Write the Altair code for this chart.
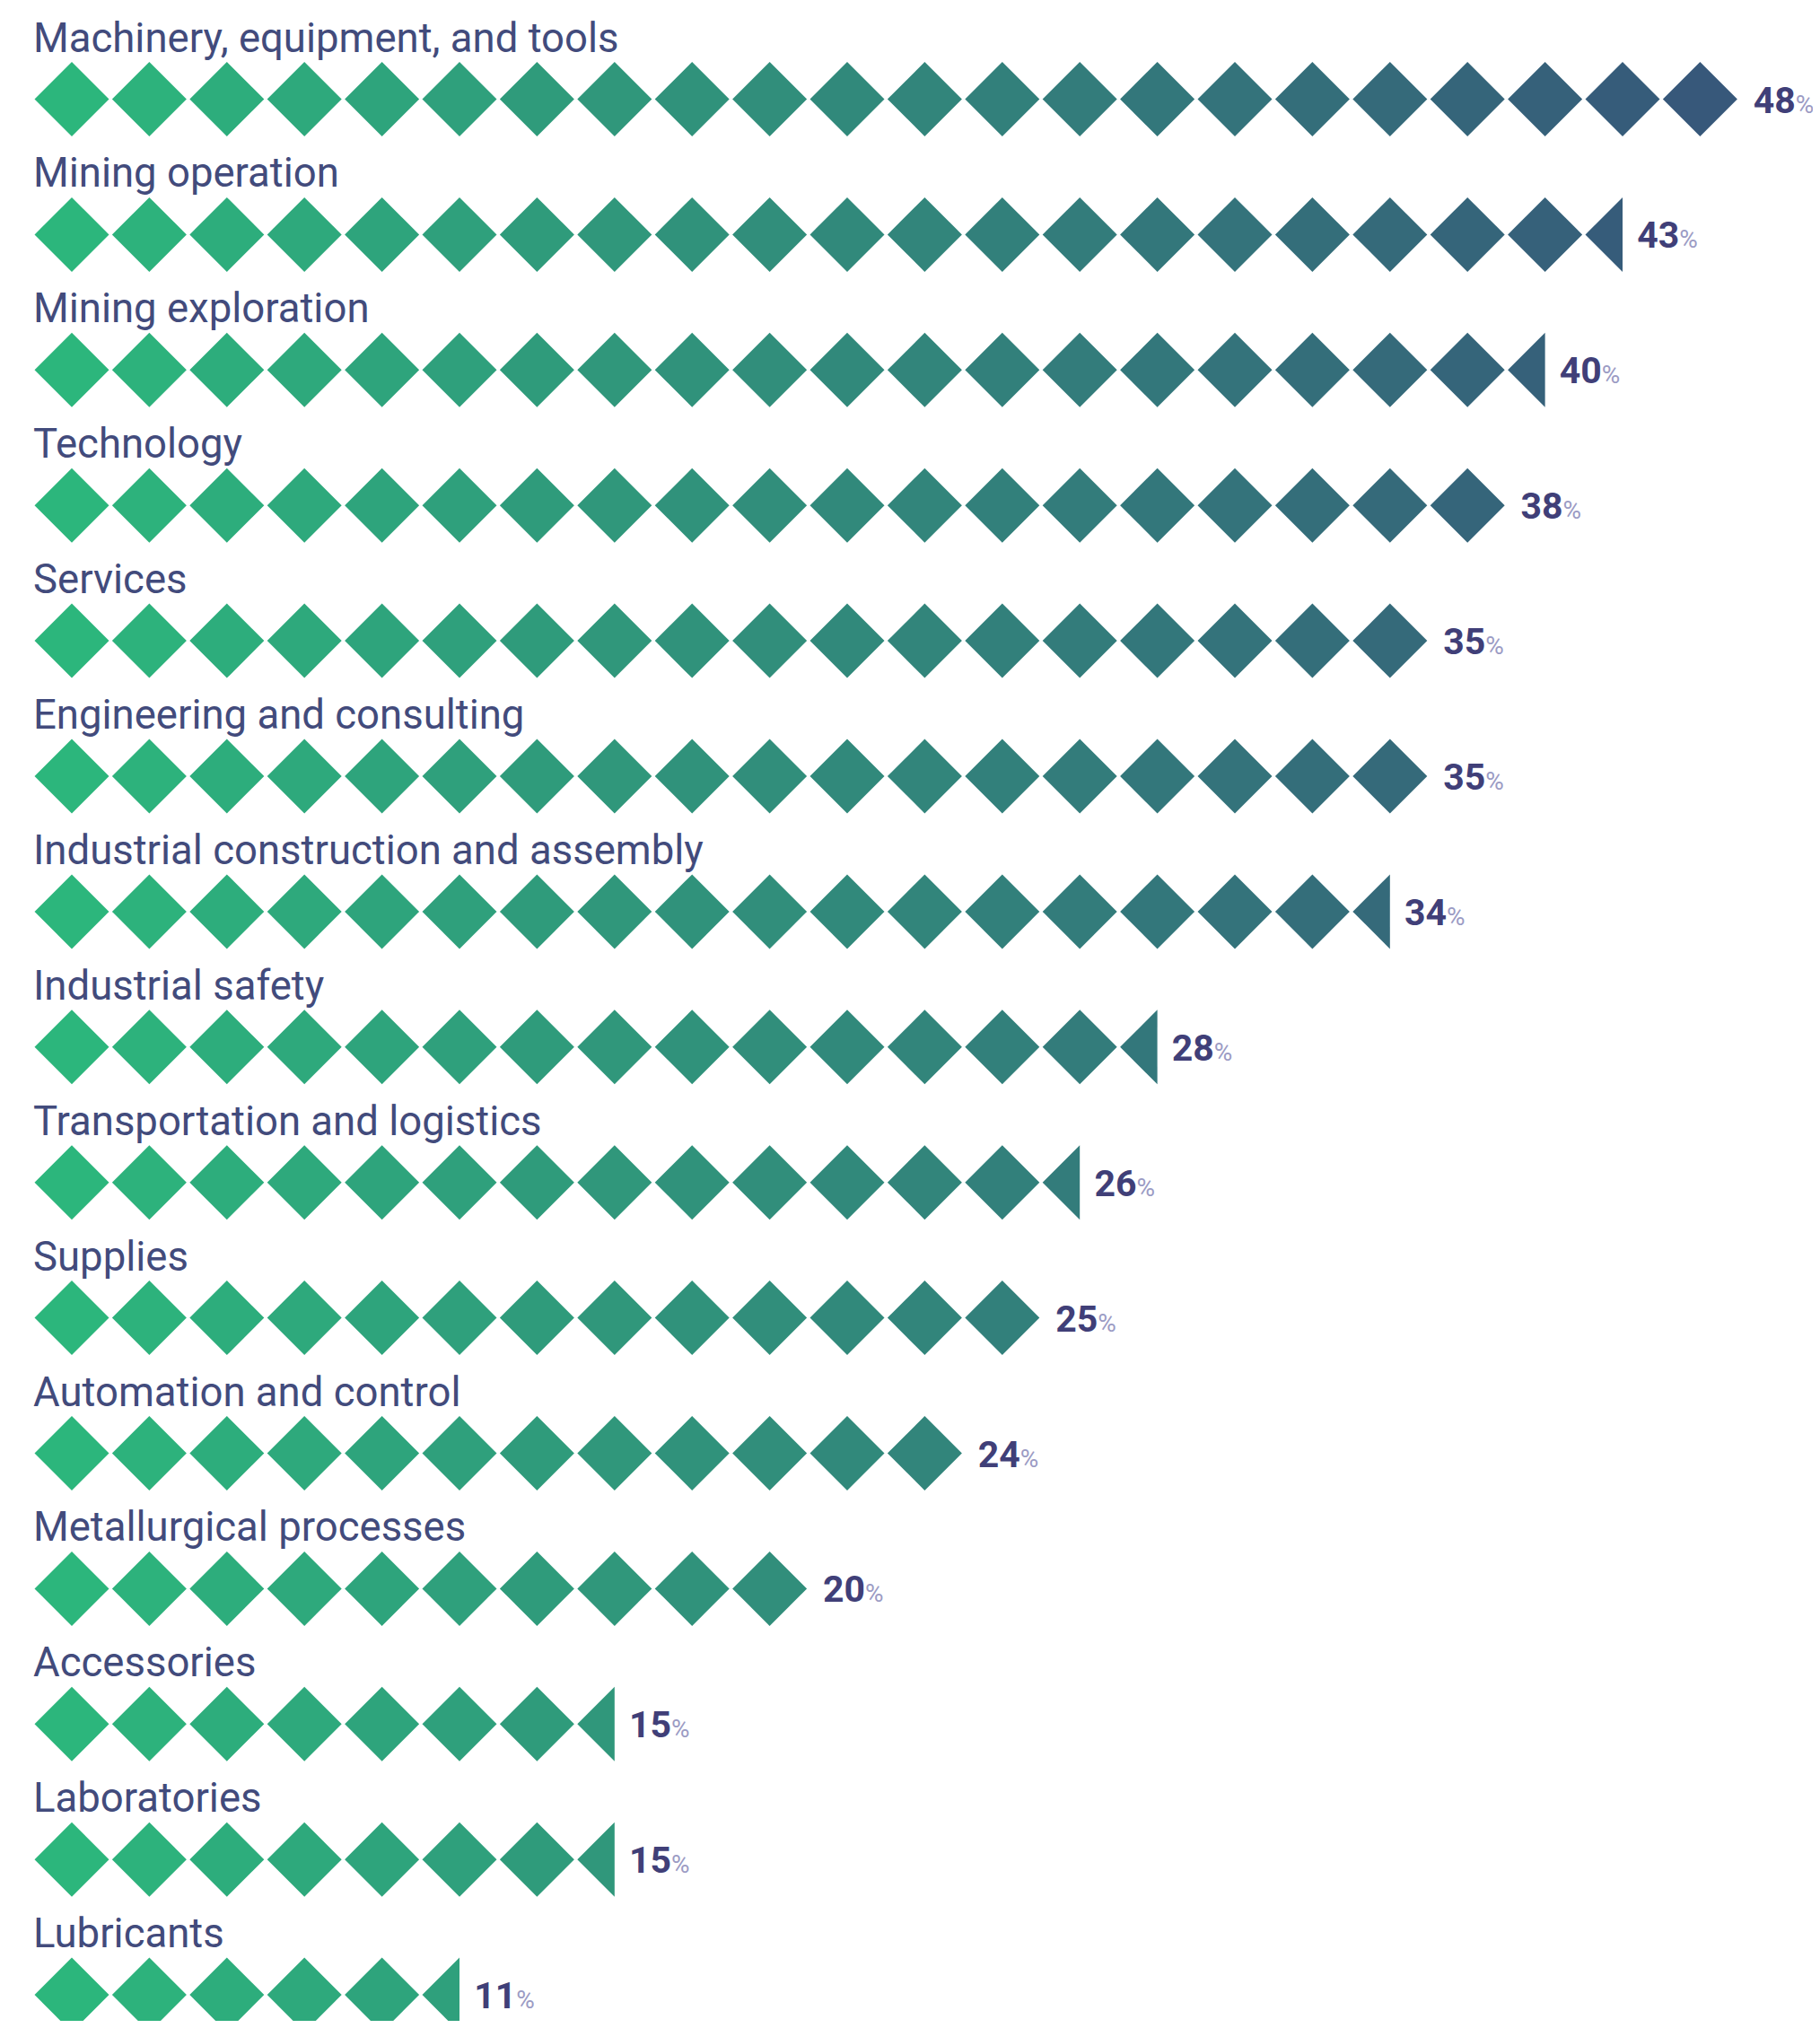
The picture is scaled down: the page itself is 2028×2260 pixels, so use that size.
import altair as alt
import pandas as pd

categories = [
    "Machinery, equipment, and tools",
    "Mining operation",
    "Mining exploration",
    "Technology",
    "Services",
    "Engineering and consulting",
    "Industrial construction and assembly",
    "Industrial safety",
    "Transportation and logistics",
    "Supplies",
    "Automation and control",
    "Metallurgical processes",
    "Accessories",
    "Laboratories",
    "Lubricants",
]
values = [48, 43, 40, 38, 35, 35, 34, 28, 26, 25, 24, 20, 15, 15, 11]
diamonds = [22, 20.5, 19.5, 19, 18, 18, 17.5, 14.5, 13.5, 13, 12, 10, 7.5, 7.5, 5.5]

FULL = "M0,-1L1,0L0,1L-1,0Z"
HALF = "M0,-1L0,1L-1,0Z"

rows = []
for r, n in enumerate(diamonds):
    i = 0
    while i < n:
        rows.append({"row": r, "col": i, "shape": FULL if i + 1 <= n else HALF})
        i += 1
icons = pd.DataFrame(rows)
labels = pd.DataFrame({
    "row": list(range(len(categories))),
    "category": categories,
    "value": [str(v) for v in values],
    "units": diamonds,
})

W, H = 2012, 2244
STEP_X, X0 = 86.4, 72.0
STEP_Y, Y0 = 150.9, 102.5
x_scale = alt.Scale(domain=[-X0 / STEP_X, (W - X0) / STEP_X], nice=False, zero=False)
y_scale = alt.Scale(domain=[-Y0 / STEP_Y, (H - Y0) / STEP_Y], reverse=True, nice=False, zero=False)

pts = alt.Chart(icons).mark_point(filled=True, opacity=1, size=6889, strokeWidth=0).encode(
    x=alt.X("col:Q", scale=x_scale, axis=None),
    y=alt.Y("row:Q", scale=y_scale, axis=None),
    shape=alt.Shape("shape:N", scale=None),
    color=alt.Color("col:Q", scale=alt.Scale(domain=[0, 21], range=["#2cb67c", "#37587a"], interpolate="rgb"), legend=None),
)

cat_text = alt.Chart(labels).mark_text(
    align="left", baseline="alphabetic", font="Roboto", fontSize=45.5, color="#424b7c", dy=-53
).encode(
    x=alt.value(29),
    y=alt.Y("row:Q", scale=y_scale, axis=None),
    text="category:N",
)

num_text = alt.Chart(labels).mark_text(
    align="left", baseline="alphabetic", font="Roboto", fontWeight="bold", fontSize=41,
    color="#403f78", dx=-27, dy=15
).encode(
    x=alt.X("units:Q", scale=x_scale, axis=None),
    y=alt.Y("row:Q", scale=y_scale, axis=None),
    text="value:N",
)

pct_text = alt.Chart(labels).mark_text(
    align="left", baseline="alphabetic", font="Roboto", fontSize=28,
    color="#9b9bc4", dx=20, dy=15
).encode(
    x=alt.X("units:Q", scale=x_scale, axis=None),
    y=alt.Y("row:Q", scale=y_scale, axis=None),
    text=alt.value("%"),
)

chart = alt.layer(pts, cat_text, num_text, pct_text).properties(
    width=W, height=H, padding=0, autosize=alt.AutoSizeParams(type="none")
).configure_view(stroke=None)

chart.save("out.html", embed_options={"renderer": "svg", "actions": False})
